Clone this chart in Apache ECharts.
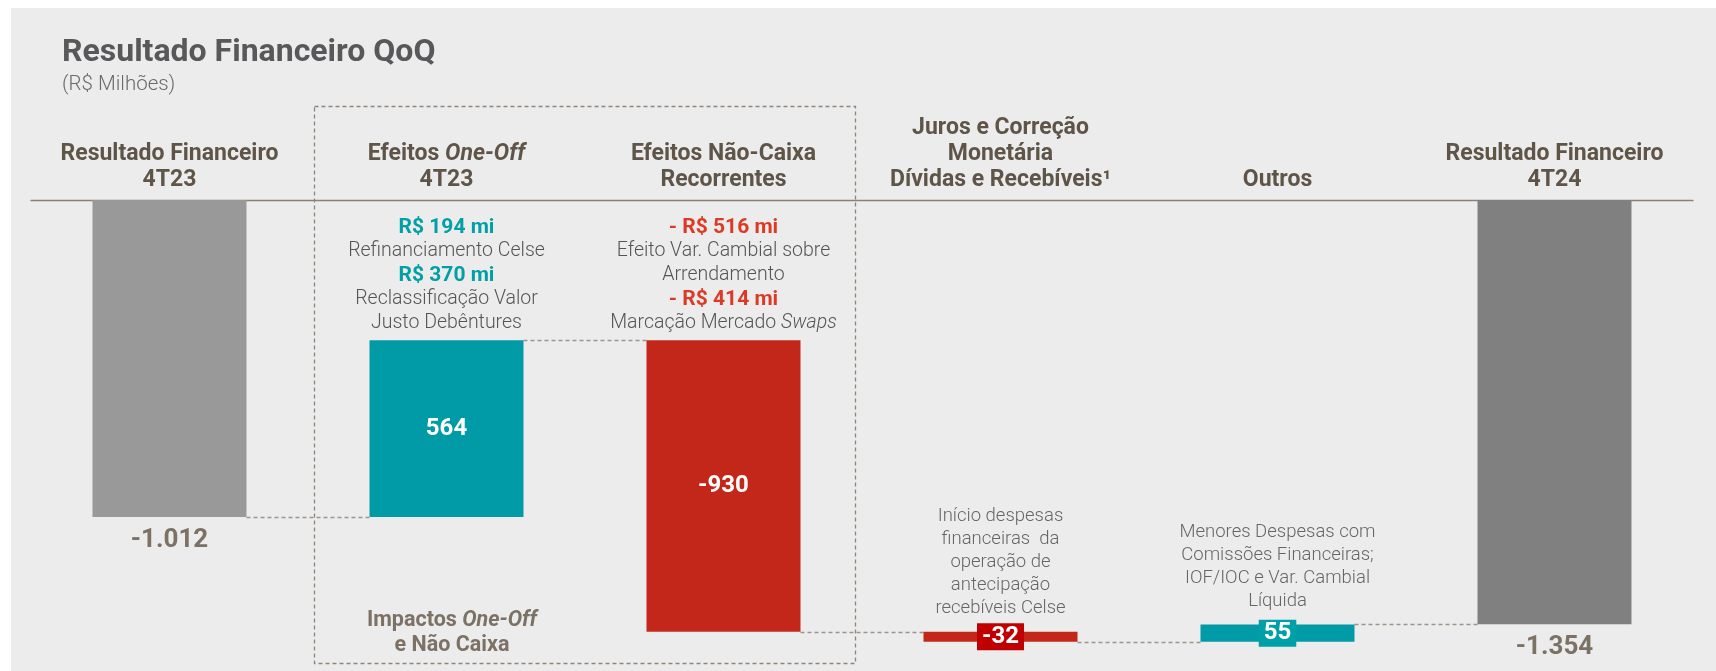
<!DOCTYPE html>
<html>
<head>
<meta charset="utf-8">
<script src="https://cdn.jsdelivr.net/npm/echarts@6/dist/echarts.min.js"></script>
<style>
html,body{margin:0;padding:0;background:#ffffff;}
#chart{width:1716px;height:671px;}
</style>
</head>
<body>
<div id="chart"></div>
<script>
// ---------- DATA ----------
const categories = [
  'Resultado Financeiro\n4T23',
  'Efeitos {i|One-Off}\n4T23',
  'Efeitos Não-Caixa\nRecorrentes',
  'Juros e Correção\nMonetária\nDívidas e Recebíveis¹',
  'Outros',
  'Resultado Financeiro\n4T24'
];
const values = [-1012, 564, -930, -32, 55, -1354];
const isTotal = [true, false, false, false, false, true];
const notes = [
  '',
  '{t|R$ 194 mi}\n{g|Refinanciamento Celse}\n{t|R$ 370 mi}\n{g|Reclassificação Valor}\n{g|Justo Debêntures}',
  '{r|- R$ 516 mi}\n{g|Efeito Var. Cambial sobre}\n{g|Arrendamento}\n{r|- R$ 414 mi}\n{g|Marcação Mercado }{gi|Swaps}',
  '{s|Início despesas}\n{s|financeiras  da}\n{s|operação de}\n{s|antecipação}\n{s|recebíveis Celse}',
  '{s|Menores Despesas com}\n{s|Comissões Financeiras;}\n{s|IOF/IOC e Var. Cambial}\n{s|Líquida}',
  ''
];
const chartTitle = 'Resultado Financeiro QoQ';
const chartSubtitle = '(R$ Milhões)';
const boxLabel = '{b|Impactos }{bi|One-Off}\n{b|e Não Caixa}';

// ---------- STYLE ----------
const FONT = 'Roboto, sans-serif';
const barColors = ['#999999', '#009ba6', '#c3271a', '#c3271a', '#009ba6', '#808080'];
const boxColors = [null, null, null, '#c00000', '#00a0a9', null];
const noteDist = [0, 5, 5, 12, 12, 0];

function fmt(v) {
  const s = String(Math.abs(v)).replace(/\B(?=(\d{3})+(?!\d))/g, '.');
  return (v < 0 ? '-' : '') + s;
}

// waterfall geometry derived from values
let run = 0;
const base = [], len = [], levels = [];
values.forEach((v, i) => {
  if (isTotal[i]) { base.push(0); len.push(v); run = v; }
  else { const end = run + v; base.push(Math.max(run, end)); len.push(-Math.abs(v)); run = end; }
  levels.push(run);
});

const HW = 0.278;
const connectors = [];
for (let i = 0; i < values.length - 1; i++) {
  connectors.push({ coords: [[i + HW, levels[i]], [i + 1 - HW, levels[i]]] });
}

const baseData = base.map((b, i) => ({
  value: b,
  label: notes[i] ? {
    show: true, position: 'insideBottom', distance: noteDist[i],
    formatter: notes[i], align: 'center',
    rich: {
      t: { fontFamily: FONT, fontSize: 21, fontWeight: 'bold', color: '#00a0a6', lineHeight: 24 },
      r: { fontFamily: FONT, fontSize: 21, fontWeight: 'bold', color: '#dd3a25', lineHeight: 24 },
      g: { fontFamily: FONT, fontSize: 19.5, fontWeight: 300, color: '#555555', lineHeight: 24 },
      gi: { fontFamily: FONT, fontSize: 19.5, fontWeight: 300, fontStyle: 'italic', color: '#555555', lineHeight: 24 },
      s: { fontFamily: FONT, fontSize: 18.5, fontWeight: 300, color: '#666666', lineHeight: 23 }
    }
  } : { show: false }
}));

const barData = len.map((l, i) => {
  let label;
  if (isTotal[i]) {
    label = { show: true, position: 'bottom', distance: 10, formatter: fmt(values[i]),
      fontFamily: FONT, fontSize: 26, fontWeight: 'bold', color: '#7b7165' };
  } else if (boxColors[i]) {
    label = { show: true, position: 'inside', formatter: fmt(values[i]),
      fontFamily: FONT, fontSize: 24, fontWeight: 'bold', color: '#ffffff',
      backgroundColor: boxColors[i], padding: [2, 5, 0, 5], lineHeight: 25 };
  } else {
    label = { show: true, position: 'inside', formatter: fmt(values[i]),
      fontFamily: FONT, fontSize: 24, fontWeight: 'bold', color: '#ffffff' };
  }
  return { value: l, itemStyle: { color: barColors[i] }, label };
});

const chart = echarts.init(document.getElementById('chart'), null, { renderer: 'canvas' });
chart.setOption({
  backgroundColor: '#ffffff',
  animation: false,
  title: {
    text: chartTitle, subtext: chartSubtitle,
    left: 57, top: 32, itemGap: 5,
    textStyle: { fontFamily: FONT, fontSize: 32, fontWeight: 'bold', color: '#58585a' },
    subtextStyle: { fontFamily: FONT, fontSize: 20.5, fontWeight: 300, color: '#6a6a6a' }
  },
  graphic: [
    { type: 'rect', z: -100, silent: true, shape: { x: 11, y: 8, width: 1705, height: 663 }, style: { fill: '#ececec' } },
    { type: 'rect', z: 100, silent: true, shape: { x: 314.5, y: 106.5, width: 541, height: 557 },
      style: { fill: 'none', stroke: '#8f857a', lineWidth: 1.3, lineDash: [4, 3] } },
    { type: 'text', z: 100, silent: true, style: {
        x: 452, y: 633, text: boxLabel, align: 'center', verticalAlign: 'middle',
        rich: {
          b: { fontFamily: FONT, fontSize: 21.5, fontWeight: 'bold', fill: '#7b7165', lineHeight: 25 },
          bi: { fontFamily: FONT, fontSize: 21.5, fontWeight: 'bold', fontStyle: 'italic', fill: '#7b7165', lineHeight: 25 }
        } } }
  ],
  grid: { left: 31, right: 23, top: 200, height: 470 },
  xAxis: [
    {
      type: 'category', data: categories, position: 'top',
      axisLine: { show: true, lineStyle: { color: '#8a8074', width: 1.3 } },
      axisTick: { show: false },
      axisLabel: {
        interval: 0, margin: 7, fontFamily: FONT, fontSize: 23, fontWeight: 'bold',
        color: '#5e5548', lineHeight: 26, align: 'center',
        rich: { i: { fontFamily: FONT, fontSize: 23, fontWeight: 'bold', fontStyle: 'italic', color: '#5e5548', lineHeight: 26 } }
      }
    },
    { type: 'value', min: -0.5, max: values.length - 0.5, show: false }
  ],
  yAxis: { type: 'value', min: -1500, max: 0, show: false, splitLine: { show: false } },
  series: [
    {
      name: 'base', type: 'bar', stack: 'wf', data: baseData, barWidth: '55.6%',
      itemStyle: { color: 'transparent' }, silent: true, emphasis: { disabled: true }, z: 3
    },
    {
      name: 'valor', type: 'bar', stack: 'wf', data: barData, barWidth: '55.6%',
      silent: true, emphasis: { disabled: true }, z: 2
    },
    {
      type: 'lines', coordinateSystem: 'cartesian2d', xAxisIndex: 1, yAxisIndex: 0,
      data: connectors, silent: true, z: 1,
      lineStyle: { color: '#9d948a', width: 1.3, type: [4, 3], opacity: 1 }
    }
  ]
});
</script>
</body>
</html>
